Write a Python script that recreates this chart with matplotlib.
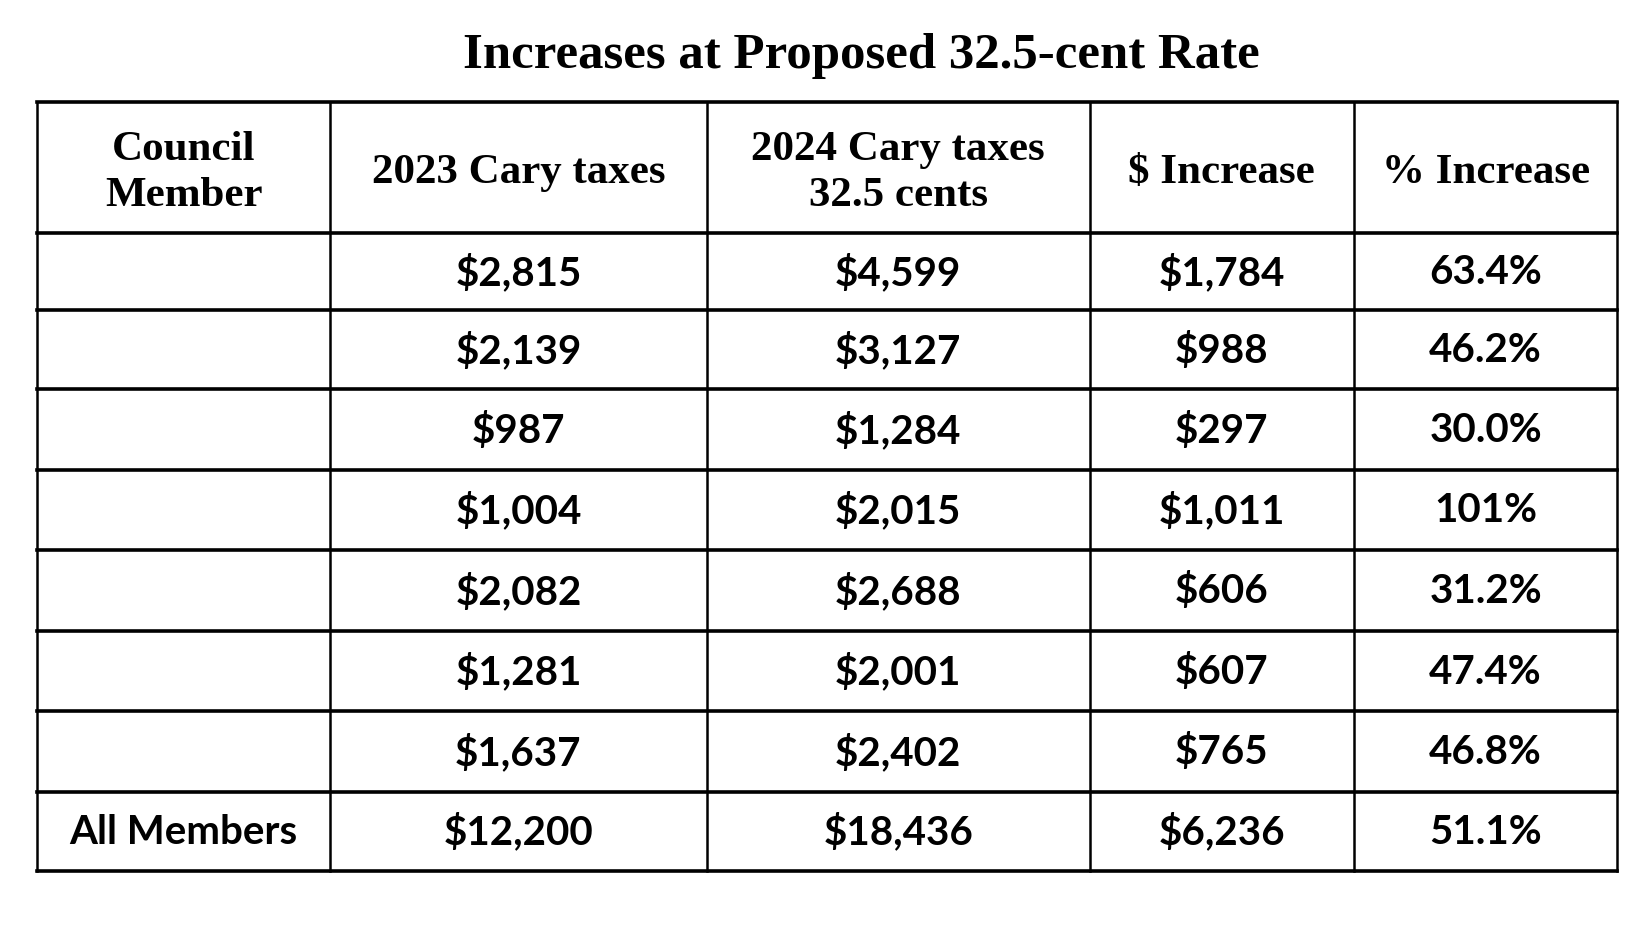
import matplotlib.pyplot as plt

title = 'Increases at Proposed 32.5-cent Rate'
headers = ['Council\nMember', '2023 Cary taxes', '2024 Cary taxes\n32.5 cents', '$ Increase', '% Increase']
members = ['', '', '', '', '', '', '', 'All Members']
taxes_2023 = ['$2,815', '$2,139', '$987', '$1,004', '$2,082', '$1,281', '$1,637', '$12,200']
taxes_2024 = ['$4,599', '$3,127', '$1,284', '$2,015', '$2,688', '$2,001', '$2,402', '$18,436']
dollar_inc = ['$1,784', '$988', '$297', '$1,011', '$606', '$607', '$765', '$6,236']
pct_inc = ['63.4%', '46.2%', '30.0%', '101%', '31.2%', '47.4%', '46.8%', '51.1%']

# table grid (fractions of figure, y from top)
col_x = [0.0224, 0.200, 0.428, 0.660, 0.820, 0.9796]
row_y = [0.1085, 0.2458, 0.3267, 0.4097, 0.4939, 0.578, 0.663, 0.7475, 0.8317, 0.9147]

fig = plt.figure(figsize=(16.51, 9.53), dpi=100)
ax = fig.add_axes([0, 0, 1, 1])
ax.set_xlim(0, 1)
ax.set_ylim(1, 0)
ax.axis('off')

ax.text(0.522, 0.059, title, ha='center', va='center', fontsize=36.6,
        fontfamily='Liberation Serif', fontweight='bold')

# horizontal lines
for y in row_y:
    ax.plot([col_x[0], col_x[-1]], [y, y], color='black', lw=2.6, solid_capstyle='projecting')
# vertical lines
for x in col_x:
    ax.plot([x, x], [row_y[0], row_y[-1]], color='black', lw=1.8)

for j, h in enumerate(headers):
    cx = (col_x[j] + col_x[j + 1]) / 2
    cy = (row_y[0] + row_y[1]) / 2 + 0.004
    ax.text(cx, cy, h, ha='center', va='center', fontsize=31, linespacing=1.27,
            fontfamily='Liberation Serif', fontweight='bold')

columns = [members, taxes_2023, taxes_2024, dollar_inc, pct_inc]
for j, col in enumerate(columns):
    cx = (col_x[j] + col_x[j + 1]) / 2
    for i, val in enumerate(col):
        cy = (row_y[i + 1] + row_y[i + 2]) / 2
        ax.text(cx, cy, val, ha='center', va='center', fontsize=29,
                fontfamily='Lato', fontweight='bold')

fig.savefig('out.png', dpi=100, facecolor='white')
